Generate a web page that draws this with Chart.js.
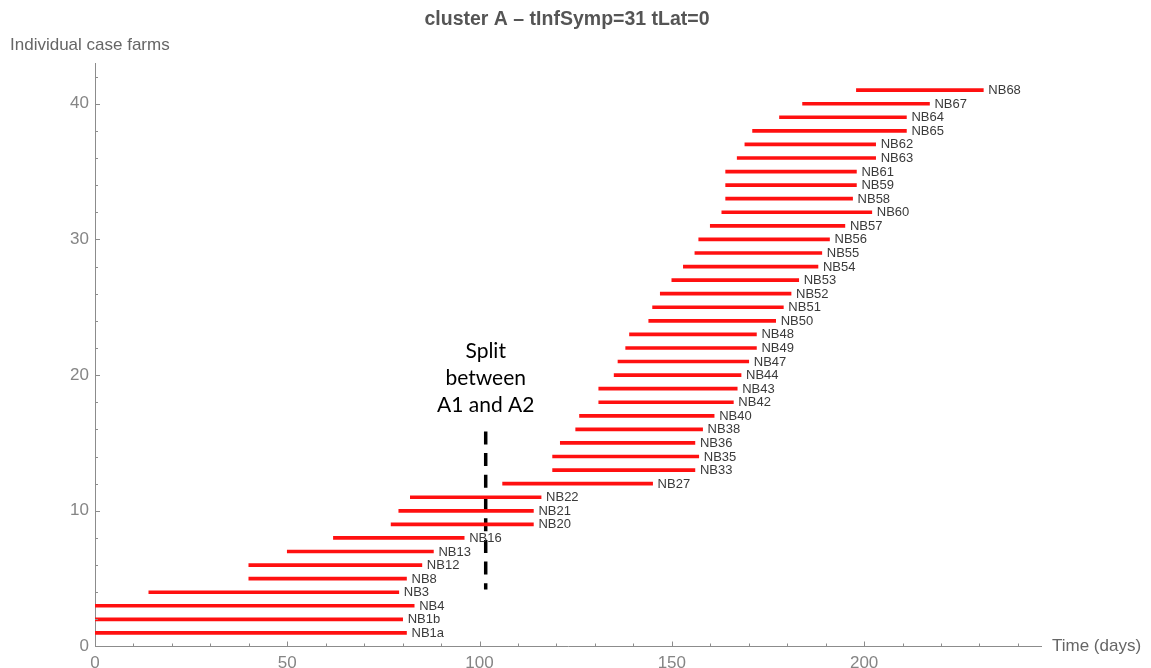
<!DOCTYPE html>
<html>
<head>
<meta charset="utf-8">
<script src="https://cdn.jsdelivr.net/npm/chart.js@4/dist/chart.umd.min.js"></script>
<style>
  html, body { margin: 0; padding: 0; background: #fff; }
  #wrap { width: 1151px; height: 668px; position: relative; }
</style>
</head>
<body>
<div id="wrap"><canvas id="c" width="1151" height="668"></canvas></div>
<script>
// ---- data ----
const caseNames = ['NB1a','NB1b','NB4','NB3','NB8','NB12','NB13','NB16','NB20','NB21','NB22','NB27','NB33','NB35','NB36','NB38','NB40','NB42','NB43','NB44','NB47','NB49','NB48','NB50','NB51','NB52','NB53','NB54','NB55','NB56','NB57','NB60','NB58','NB59','NB61','NB63','NB62','NB65','NB64','NB67','NB68'];
const caseRank = [1,2,3,4,5,6,7,8,9,10,11,12,13,14,15,16,17,18,19,20,21,22,23,24,25,26,27,28,29,30,31,32,33,34,35,36,37,38,39,40,41];
const startDays = [0,0,0,14,40,40,50,62,77,79,82,106,119,119,121,125,126,131,131,135,136,138,139,144,145,147,150,153,156,157,160,163,164,164,164,167,169,171,178,184,198];
const endDays = [81,80,83,79,81,85,88,96,114,114,116,145,156,157,156,158,161,166,167,168,170,172,172,177,179,181,183,188,189,191,195,202,197,198,198,203,203,211,211,217,231];
const splitDay = 101.6;
const splitRange = [15.85, 4.2];
const xTickLabels = [0, 50, 100, 150, 200];
const yTickLabels = [0, 10, 20, 30, 40];
const titleText = 'cluster A \u2013 tInfSymp=31 tLat=0';
const yTitle = 'Individual case farms';
const xTitle = 'Time (days)';
const splitText = ['Split', 'between', 'A1 and A2'];

const AXIS_COLOR = '#8c8c8c';
const TICK_COLOR = '#858585';

const barData = caseRank.map((r, i) => ({ x: [startDays[i], endDays[i]], y: r }));
const splitData = splitRange.map(v => ({ x: splitDay, y: v }));

const decorPlugin = {
  id: 'decor',
  afterDatasetsDraw(chart) {
    const ctx = chart.ctx;
    const xs = chart.scales.x, ys = chart.scales.y;
    ctx.save();
    ctx.font = '13px "Liberation Sans", Arial, sans-serif';
    ctx.fillStyle = '#3a3a3a';
    ctx.textAlign = 'left';
    ctx.textBaseline = 'middle';
    caseNames.forEach((n, i) => {
      ctx.fillText(n, xs.getPixelForValue(endDays[i]) + 5, ys.getPixelForValue(caseRank[i]) + 0.5);
    });
    ctx.restore();
  },
  afterDraw(chart) {
    const ctx = chart.ctx;
    const xs = chart.scales.x, ys = chart.scales.y;
    const area = chart.chartArea;
    ctx.save();
    // inward ticks
    ctx.strokeStyle = AXIS_COLOR;
    ctx.lineWidth = 1;
    ctx.beginPath();
    for (let v = 10; v <= xs.max; v += 10) {
      const px = Math.round(xs.getPixelForValue(v)) + 0.5;
      const len = v % 50 === 0 ? 5 : 3;
      ctx.moveTo(px, area.bottom);
      ctx.lineTo(px, area.bottom - len);
    }
    for (let v = 2; v <= ys.max; v += 2) {
      const py = Math.round(ys.getPixelForValue(v)) + 0.5;
      const len = v % 10 === 0 ? 5 : 3;
      ctx.moveTo(area.left, py);
      ctx.lineTo(area.left + len, py);
    }
    ctx.stroke();

    // title
    ctx.fillStyle = '#555555';
    ctx.font = 'bold 19.5px "Liberation Sans", Arial, sans-serif';
    ctx.textAlign = 'center';
    ctx.textBaseline = 'middle';
    ctx.fillText(titleText, 567, 20);

    // axis titles
    ctx.fillStyle = '#666666';
    ctx.font = '17px "Liberation Sans", Arial, sans-serif';
    ctx.textAlign = 'left';
    ctx.fillText(yTitle, 10, 45);
    ctx.fillText(xTitle, area.right + 11, area.bottom);

    // split annotation text
    ctx.fillStyle = '#000000';
    ctx.font = '21px Lato, "Open Sans", sans-serif';
    ctx.textAlign = 'center';
    const cx = xs.getPixelForValue(splitDay);
    splitText.forEach((t, i) => ctx.fillText(t, cx, 351 + i * 27));
    ctx.restore();
  }
};

new Chart(document.getElementById('c'), {
  type: 'bar',
  data: {
    datasets: [
      {
        type: 'bar',
        indexAxis: 'y',
        data: barData,
        backgroundColor: '#ff1010',
        borderWidth: 0,
        barThickness: 3
      },
      {
        type: 'line',
        data: splitData,
        borderColor: '#000000',
        borderWidth: 3.5,
        borderDash: [13, 8.7],
        borderCapStyle: 'butt',
        pointRadius: 0,
        fill: false
      }
    ]
  },
  options: {
    responsive: false,
    animation: false,
    devicePixelRatio: 1,
    layout: { padding: { top: 63, right: 110, left: 0, bottom: 0 } },
    plugins: { legend: { display: false }, tooltip: { enabled: false }, title: { display: false } },
    scales: {
      x: {
        type: 'linear',
        min: 0,
        max: 246,
        offset: false,
        grid: { display: false, offset: false },
        border: { display: true, color: AXIS_COLOR, width: 1 },
        afterBuildTicks: s => { s.ticks = xTickLabels.map(v => ({ value: v })); },
        ticks: { color: TICK_COLOR, font: { size: 17, family: '"Liberation Sans", Arial, sans-serif' }, padding: -1, maxRotation: 0, autoSkip: false },
        afterFit: s => { s.height = 21.5; }
      },
      y: {
        type: 'linear',
        min: 0,
        max: 43,
        offset: false,
        grid: { display: false, offset: false },
        border: { display: true, color: AXIS_COLOR, width: 1 },
        afterBuildTicks: s => { s.ticks = yTickLabels.map(v => ({ value: v })); },
        ticks: { color: TICK_COLOR, font: { size: 17, family: '"Liberation Sans", Arial, sans-serif' }, padding: -2, autoSkip: false },
        afterFit: s => { s.width = 95; }
      }
    }
  },
  plugins: [decorPlugin]
});
</script>
</body>
</html>
